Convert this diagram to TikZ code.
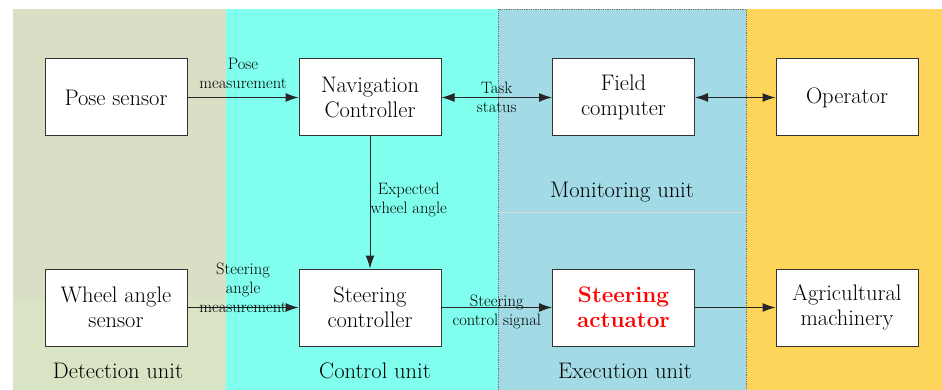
\documentclass[tikz,border=0pt]{standalone}
\usepackage{fontspec}
\usepackage{tikz}
\usetikzlibrary{arrows.meta}

\definecolor{detect}{HTML}{D9DFC4}
\definecolor{detectlow}{HTML}{D9E4C5}
\definecolor{ctrl}{HTML}{80FFEE}
\definecolor{monit}{HTML}{A2DBE6}
\definecolor{oper}{HTML}{FDD55A}

\begin{document}
\begin{tikzpicture}[x=1pt,y=-1pt,
	block/.style={draw=black!80,fill=white,line width=1pt,minimum width=142pt,minimum height=77pt,inner sep=0pt,align=center,font=\fontsize{22.5}{25}\selectfont},
	lbl/.style={align=center,inner sep=1pt,font=\fontsize{16.5}{19}\selectfont},
	unit/.style={font=\fontsize{22.5}{25}\selectfont},
	flow/.style={line width=1pt,draw=black!85,-{Latex[length=13pt,width=9pt]}},
	flows/.style={flow,{Latex[length=13pt,width=9pt]}-{Latex[length=13pt,width=9pt]}}]
		\useasboundingbox (0,0) rectangle (942,390);
		% background units
		\fill[detect](13,9) rectangle (226,390);
		\fill[detectlow](13,299) rectangle (226,390);
		\fill[ctrl](226,9) rectangle (498,390);
		\fill[monit](498,9) rectangle (746,390);
		\fill[oper](746,9) rectangle (942,390);
		\draw[black!15,line width=0.5pt](498,212)--(746,212);
		\draw[black!55,densely dotted,line width=0.8pt](498,390)--(498,9)--(746,9)--(746,390);
		
		% blocks
		\node[block] (pose) at (116,97.5) {Pose sensor};
		\node[block] (nav) at (370,97.5) {Navigation\\Controller};
		\node[block] (field) at (623.5,97.5) {Field\\computer};
		\node[block] (op) at (847,97.5) {Operator};
		\node[block] (wheel) at (116,307.5) {Wheel angle\\sensor};
		\node[block] (steer) at (370,307.5) {Steering\\controller};
		\node[block,text=red,font=\fontsize{22.5}{25}\selectfont\bfseries] (act) at (623.5,307.5) {Steering\\actuator};
		\node[block] (agri) at (847,307.5) {Agricultural\\machinery};
		
		% connectors
		\draw[flow](pose)--(nav) node[midway,above,lbl,yshift=7pt]{Pose\\measurement};
		\draw[flows](nav)--(field) node[midway,lbl]{Task\\status};
		\draw[flows](field)--(op);
		\draw[flow](nav)--(steer) node[midway,right,lbl,xshift=-1pt,yshift=3pt]{Expected\\wheel angle};
		\draw[flow](wheel)--(steer) node[midway,above,lbl,yshift=-7pt]{Steering\\angle\\measurement};
		\draw[flow](steer)--(act) node[midway,lbl,yshift=-4pt]{Steering\\control signal};
		\draw[flow](act)--(agri);
		
		% unit names
		\node[unit] (mon) at (622,192) {Monitoring unit};
		\node[unit] (det) at (118,371) {Detection unit};
		\node[unit] (con) at (375,371) {Control unit};
		\node[unit] (exe) at (625,371) {Execution unit};
	\end{tikzpicture}
\end{document}
